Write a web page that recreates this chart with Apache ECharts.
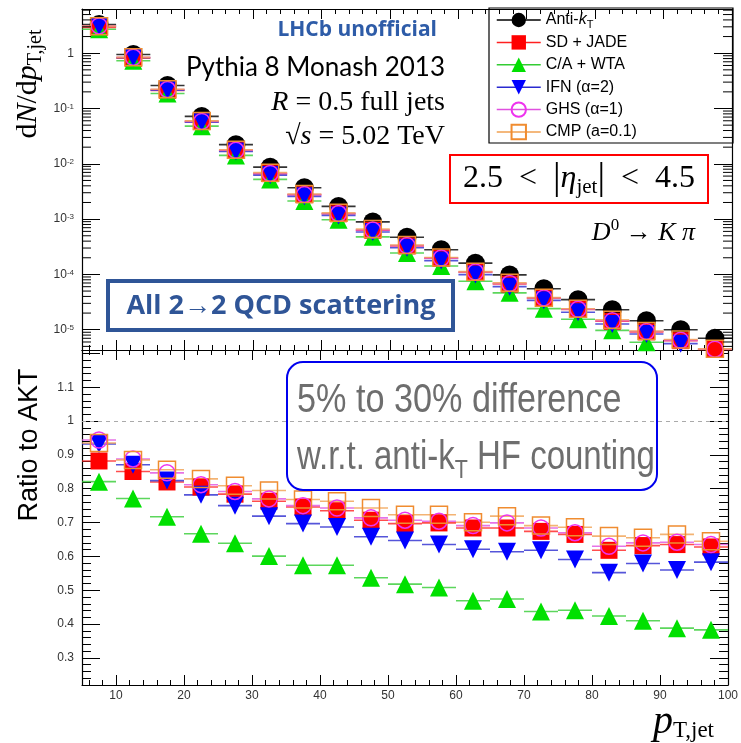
<!DOCTYPE html>
<html>
<head>
<meta charset="utf-8">
<script src="https://cdn.jsdelivr.net/npm/echarts@6/dist/echarts.min.js"></script>
<style>
html, body { margin: 0; padding: 0; background: #fff; }
#main { width: 741px; height: 743px; }
</style>
</head>
<body>
<div id="main"></div>
<script>
// bin centres of p_T,jet (5 GeV bins)
var binCenters = [7.5, 12.5, 17.5, 22.5, 27.5, 32.5, 37.5, 42.5, 47.5, 52.5, 57.5, 62.5, 67.5, 72.5, 77.5, 82.5, 87.5, 92.5, 97.5];

// dN/dpT for anti-kT (top panel)
var aktYield = [3.3, 0.95, 0.26, 0.072, 0.0222, 0.0087, 0.0037, 0.0017, 0.00089, 0.00047, 0.00028, 0.00016, 0.000098, 0.000055, 0.000035, 0.000023, 0.0000145, 0.00001, 0.000007];

// ratio to AKT (bottom panel)
var ratioSD  = [0.882, 0.851, 0.82, 0.805, 0.784, 0.763, 0.746, 0.735, 0.707, 0.697, 0.699, 0.684, 0.684, 0.674, 0.665, 0.618, 0.632, 0.635, 0.628];
var ratioCA  = [0.821, 0.771, 0.717, 0.667, 0.639, 0.601, 0.574, 0.574, 0.537, 0.518, 0.508, 0.469, 0.474, 0.437, 0.441, 0.424, 0.41, 0.388, 0.383];
var ratioIFN = [0.932, 0.871, 0.824, 0.782, 0.75, 0.719, 0.697, 0.687, 0.658, 0.647, 0.635, 0.621, 0.614, 0.618, 0.591, 0.552, 0.579, 0.56, 0.583];
var ratioGHS = [0.944, 0.888, 0.847, 0.812, 0.792, 0.77, 0.75, 0.743, 0.714, 0.707, 0.704, 0.691, 0.699, 0.684, 0.67, 0.63, 0.64, 0.642, 0.635];
var ratioCMP = [0.935, 0.885, 0.856, 0.829, 0.809, 0.795, 0.768, 0.763, 0.743, 0.723, 0.723, 0.701, 0.719, 0.691, 0.686, 0.66, 0.655, 0.665, 0.645];

var yTopLabels = [1, 0.1, 0.01, 0.001, 0.0001, 0.00001];

var myChart = echarts.init(document.getElementById('main'));

// series description (style only)
var defs = [
  { name: 'Anti-kT',     ratio: null,     color: '#000000', bar: '#000000', symbol: 'circle',   size: 19, rot: 0,   open: false },
  { name: 'SD + JADE',   ratio: ratioSD,  color: '#ff0000', bar: '#ff2020', symbol: 'rect',     size: 17, rot: 0,   open: false },
  { name: 'C/A + WTA',   ratio: ratioCA,  color: '#00e000', bar: '#33cc33', symbol: 'triangle', size: 18, rot: 0,   open: false },
  { name: 'IFN (α=2)',   ratio: ratioIFN, color: '#0000ff', bar: '#2a2ad0', symbol: 'triangle', size: 18, rot: 180, open: false },
  { name: 'GHS (α=1)',   ratio: ratioGHS, color: '#ee33ee', bar: '#e050e0', symbol: 'circle',   size: 16, rot: 0,   open: true },
  { name: 'CMP (a=0.1)', ratio: ratioCMP, color: '#f08c30', bar: '#f0a050', symbol: 'rect',     size: 17, rot: 0,   open: true }
];

function pairs(vals) {
  return binCenters.map(function (x, i) { return [x, vals[i]]; });
}
// same points, separated by gaps so no connecting line is drawn
function isolated(vals) {
  var out = [];
  binCenters.forEach(function (x, i) { out.push([x, vals[i]]); out.push('-'); });
  return out;
}

var series = [];
defs.forEach(function (d, k) {
  var topVals = d.ratio ? aktYield.map(function (v, i) { return v * d.ratio[i]; }) : aktYield;
  var panels = [{ idx: 0, vals: topVals }];
  if (d.ratio) panels.push({ idx: 1, vals: d.ratio });
  panels.forEach(function (p) {
    // horizontal bin-width bar
    series.push({
      name: '_bar' + k, type: 'scatter', xAxisIndex: p.idx * 2, yAxisIndex: p.idx * 2,
      data: pairs(p.vals), symbol: 'rect', symbolSize: [34, 1.6], silent: true,
      itemStyle: { color: d.bar }, z: 2 + k * 0.1
    });
    // marker
    series.push({
      name: d.name, type: 'line', xAxisIndex: p.idx * 2, yAxisIndex: p.idx * 2,
      data: isolated(p.vals), connectNulls: false,
      symbol: d.symbol, symbolSize: d.size, symbolRotate: d.rot,
      showSymbol: true, showAllSymbol: true, color: d.color,
      lineStyle: { color: d.bar, width: 1.5 },
      itemStyle: d.open ? { color: 'rgba(0,0,0,0)', borderColor: d.color, borderWidth: 1.5 } : { color: d.color },
      z: 3 + k * 0.1,
      markLine: (p.idx === 1 && k === 1) ? {
        silent: true, symbol: 'none', label: { show: false },
        lineStyle: { color: '#aaa', type: [4, 4], width: 1 },
        data: [{ yAxis: 1 }]
      } : undefined
    });
  });
});

// log minor ticks (2..9 x 10^n) on top panel frame
var minorLog = [];
for (var e = -6; e <= 0; e++) {
  for (var m = 2; m <= 9; m++) {
    var v = m * Math.pow(10, e);
    if (v > 4.3e-6 && v < 6.3) minorLog.push([0, v]);
  }
}
series.push({
  type: 'custom', xAxisIndex: 0, yAxisIndex: 0, silent: true, z: 5,
  data: minorLog,
  renderItem: function (params, api) {
    var l = api.coord([5, api.value(1)]);
    var r = api.coord([100, api.value(1)]);
    return {
      type: 'group', children: [
        { type: 'line', shape: { x1: l[0], y1: l[1], x2: l[0] + 9, y2: l[1] }, style: { stroke: '#000', lineWidth: 1 } },
        { type: 'line', shape: { x1: r[0], y1: r[1], x2: r[0] - 9, y2: r[1] }, style: { stroke: '#000', lineWidth: 1 } }
      ]
    };
  }
});

function xAx(grid, pos, labels) {
  return {
    type: 'value', gridIndex: grid, position: pos, min: 5, max: 100, splitNumber: 10,
    axisLine: { show: true, onZero: false, lineStyle: { color: '#000', width: 1.2 } },
    axisTick: { show: true, inside: true, length: 10, lineStyle: { color: '#000' } },
    minorTick: { show: true, splitNumber: 5, length: 5, lineStyle: { color: '#000' } },
    splitLine: { show: false },
    axisLabel: { show: labels, margin: 5, color: '#333', fontSize: 12, fontFamily: 'Liberation Sans', showMinLabel: false, showMaxLabel: true }
  };
}

function yLog(pos, labels) {
  return {
    type: 'log', logBase: 10, gridIndex: 0, position: pos, min: 4.3e-6, max: 6.3, splitNumber: 6,
    axisLine: { show: true, onZero: false, lineStyle: { color: '#000', width: 1.2 } },
    axisTick: { show: true, inside: true, length: 18, lineStyle: { color: '#000' } },
    minorTick: { show: false },
    splitLine: { show: false },
    axisLabel: {
      show: labels, margin: 8, color: '#333', fontSize: 12, fontFamily: 'Liberation Sans',
      showMinLabel: false, showMaxLabel: false,
      formatter: function (val) {
        var p = Math.round(Math.log(val) / Math.LN10);
        if (yTopLabels.indexOf(Math.pow(10, p)) < 0 && p !== 0) return '';
        return p === 0 ? '1' : '10{s|' + p + '}';
      },
      rich: { s: { fontSize: 8, color: '#333', verticalAlign: 'top', fontFamily: 'Liberation Sans' } }
    }
  };
}

function yRatio(pos, labels) {
  return {
    type: 'value', gridIndex: 1, position: pos, min: 0.22, max: 1.21, splitNumber: 10,
    axisLine: { show: true, onZero: false, lineStyle: { color: '#000', width: 1.2 } },
    axisTick: { show: true, inside: true, length: 18, lineStyle: { color: '#000' } },
    minorTick: { show: true, splitNumber: 5, length: 9, lineStyle: { color: '#000' } },
    splitLine: { show: false },
    axisLabel: {
      show: labels, margin: 8, color: '#333', fontSize: 12, fontFamily: 'Liberation Sans', showMinLabel: false, showMaxLabel: false,
      formatter: function (val) { return val > 1.15 ? '' : String(+val.toFixed(1)); }
    }
  };
}

var serif = 'Liberation Serif';

myChart.setOption({
  animation: false,
  backgroundColor: '#fff',
  grid: [
    { left: 82, right: 9, top: 9, height: 341 },
    { left: 82, right: 9, top: 350, height: 335 }
  ],
  xAxis: [xAx(0, 'bottom', false), xAx(0, 'top', false), xAx(1, 'bottom', true), xAx(1, 'top', false)],
  yAxis: [yLog('left', true), yLog('right', false), yRatio('left', true), yRatio('right', false)],
  legend: {
    data: defs.map(function (d) { return d.name; }),
    orient: 'vertical', left: 496, top: 10, padding: 0, itemWidth: 44, itemHeight: 18, itemGap: 2.4,
    selectedMode: false,
    lineStyle: { width: 1.5, opacity: 1 },
    textStyle: {
      fontSize: 16, fontFamily: 'Liberation Sans', color: '#000', lineHeight: 20,
      rich: {
        i: { fontSize: 16, fontStyle: 'italic', fontFamily: 'Liberation Sans', color: '#000', lineHeight: 20 },
        sub: { fontSize: 11, fontFamily: 'Liberation Sans', color: '#000', verticalAlign: 'bottom', lineHeight: 20 }
      }
    },
    formatter: function (name) {
      return name === 'Anti-kT' ? 'Anti-{i|k}{sub|T}' : name;
    }
  },
  graphic: [
    { type: 'rect', shape: { x: 489, y: 8, width: 244, height: 135 }, style: { fill: 'none', stroke: '#000', lineWidth: 1.2 }, z: 10 },
    { type: 'text', x: 437, y: 30, style: { text: 'LHCb unofficial', fontSize: 21, fontWeight: 'bold', fontFamily: 'Open Sans', fill: '#2e5ca8', align: 'right', verticalAlign: 'middle' } },
    { type: 'text', x: 445, y: 68, style: { text: 'Pythia 8 Monash 2013', fontSize: 26, fontFamily: 'Lato', fill: '#000', align: 'right', verticalAlign: 'middle' } },
    { type: 'text', x: 445, y: 103, style: {
      text: '{i|R} = 0.5 full jets', fontSize: 28, fontFamily: serif, fill: '#000', align: 'right', verticalAlign: 'middle',
      rich: { i: { fontSize: 28, fontStyle: 'italic', fontFamily: serif, fill: '#000' } } } },
    { type: 'text', x: 445, y: 137, style: {
      text: '√{i|s} = 5.02 TeV', fontSize: 28, fontFamily: serif, fill: '#000', align: 'right', verticalAlign: 'middle',
      rich: { i: { fontSize: 28, fontStyle: 'italic', fontFamily: serif, fill: '#000' } } } },
    { type: 'rect', shape: { x: 450, y: 155, width: 258, height: 48 }, style: { fill: 'none', stroke: '#ff0000', lineWidth: 2 } },
    { type: 'text', x: 579, y: 179, style: {
      text: '2.5  <  {b||}{i|η}{sub|jet}{b||}  <  4.5', fontSize: 32, fontFamily: serif, fill: '#000', align: 'center', verticalAlign: 'middle', lineHeight: 38,
      rich: {
        i: { fontSize: 32, fontStyle: 'italic', fontFamily: serif, fill: '#000', lineHeight: 38 },
        b: { fontSize: 38, fontFamily: serif, fill: '#000', lineHeight: 38 },
        sub: { fontSize: 21, fontFamily: serif, fill: '#000', verticalAlign: 'bottom', lineHeight: 38 }
      } } },
    { type: 'text', x: 695, y: 233, style: {
      text: '{i|D}{sup|0} → {i|K} {i|π}', fontSize: 26, fontFamily: serif, fill: '#000', align: 'right', verticalAlign: 'middle', lineHeight: 32,
      rich: {
        i: { fontSize: 26, fontStyle: 'italic', fontFamily: serif, fill: '#000', lineHeight: 32 },
        sup: { fontSize: 17, fontFamily: serif, fill: '#000', verticalAlign: 'top', lineHeight: 32 }
      } } },
    { type: 'rect', shape: { x: 108, y: 281, width: 345, height: 49 }, style: { fill: 'none', stroke: '#2f5597', lineWidth: 4 } },
    { type: 'text', x: 281, y: 306, style: { text: 'All 2→2 QCD scattering', fontSize: 27, fontWeight: 'bold', fontFamily: 'Open Sans', fill: '#2f5597', align: 'center', verticalAlign: 'middle' } },
    { type: 'rect', shape: { x: 287, y: 362, width: 370, height: 128, r: 16 }, style: { fill: 'none', stroke: '#0000ee', lineWidth: 2 }, z: 10 },
    { type: 'text', x: 297, y: 401, scaleX: 0.855, style: { text: '5% to 30% difference', fontSize: 40, fontFamily: 'Liberation Sans', fill: '#6e6e6e', verticalAlign: 'middle' }, z: 10 },
    { type: 'text', x: 297, y: 458, scaleX: 0.825, style: {
      text: 'w.r.t. anti-k{sub|T} HF counting', fontSize: 40, fontFamily: 'Liberation Sans', fill: '#6e6e6e', verticalAlign: 'middle', lineHeight: 52,
      rich: { sub: { fontSize: 26, fontFamily: 'Liberation Sans', fill: '#6e6e6e', verticalAlign: 'bottom', lineHeight: 52 } } }, z: 10 },
    { type: 'text', x: 28, y: 84, rotation: Math.PI / 2, style: {
      text: 'd{i|N}/d{i|p}{sub|T,jet}', fontSize: 30, fontFamily: serif, fill: '#000', align: 'center', verticalAlign: 'middle', lineHeight: 36,
      rich: {
        i: { fontSize: 30, fontStyle: 'italic', fontFamily: serif, fill: '#000', lineHeight: 36 },
        sub: { fontSize: 20, fontFamily: serif, fill: '#000', verticalAlign: 'bottom', lineHeight: 36 }
      } } },
    { type: 'text', x: 30, y: 445, rotation: Math.PI / 2, style: { text: 'Ratio to AKT', fontSize: 27, fontFamily: 'Liberation Sans', fill: '#000', align: 'center', verticalAlign: 'middle' } },
    { type: 'text', x: 714, y: 722, style: {
      text: '{i|p}{sub|T,jet}', fontSize: 36, fontFamily: serif, fill: '#000', align: 'right', verticalAlign: 'middle', lineHeight: 40,
      rich: {
        i: { fontSize: 40, fontStyle: 'italic', fontFamily: serif, fill: '#000', lineHeight: 40 },
        sub: { fontSize: 23, fontFamily: serif, fill: '#000', verticalAlign: 'bottom', lineHeight: 40 }
      } } }
  ],
  series: series
});
</script>
</body>
</html>
